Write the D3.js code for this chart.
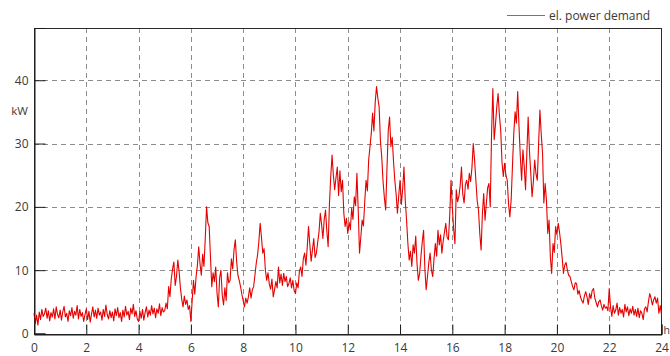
<!DOCTYPE html>
<html>
<head>
<meta charset="utf-8">
<script src="https://cdn.jsdelivr.net/npm/d3@7/dist/d3.min.js"></script>
<style>
  html, body { margin: 0; padding: 0; background: #fff; }
  svg { display: block; }
  text { font-family: "Open Sans", "Noto Sans", sans-serif; fill: #3a3a3a; }
</style>
</head>
<body>
<svg id="chart" width="670" height="356"></svg>
<script>
// Electrical power demand over one day, sampled every 3 minutes (20 samples per hour)
const seriesName = "el. power demand";
const samplesPerHour = 20;
const demandByHour = [
  [3.2, 1.6, 2.9, 1.3, 3.4, 2.2, 3.8, 2.7, 3.1, 4.0, 2.4, 3.6, 2.0, 3.3, 2.6, 3.9, 2.3, 4.2, 3.0, 2.5],          // 0 h
  [3.7, 2.1, 3.4, 4.3, 2.6, 3.2, 1.9, 3.6, 2.8, 4.1, 2.4, 3.5, 2.9, 4.4, 2.3, 3.8, 2.7, 3.3, 1.9, 3.0],          // 1 h
  [3.9, 2.2, 3.5, 1.8, 3.1, 4.2, 2.6, 3.7, 2.4, 4.0, 2.9, 3.4, 2.1, 3.8, 2.7, 4.5, 3.0, 2.3, 3.6, 2.5],          // 2 h
  [3.4, 2.0, 3.9, 2.8, 4.1, 2.5, 3.3, 1.9, 3.7, 2.6, 4.3, 2.9, 3.5, 2.2, 4.0, 3.1, 4.6, 2.7, 3.6, 2.3],          // 3 h
  [1.9, 3.5, 2.4, 3.8, 2.1, 3.3, 4.2, 2.6, 3.7, 2.9, 4.4, 3.1, 4.0, 2.5, 3.9, 3.2, 4.7, 2.8, 4.1, 3.4],          // 4 h
  [3.6, 4.8, 3.9, 7.4, 5.8, 8.6, 10.2, 11.3, 7.6, 9.0, 11.6, 9.8, 7.2, 5.4, 4.2, 5.9, 4.6, 5.3, 3.8, 4.4],       // 5 h
  [1.9, 5.2, 8.4, 6.2, 9.0, 10.8, 13.7, 11.0, 9.2, 12.5, 10.6, 15.0, 20.0, 17.5, 16.9, 12.0, 7.4, 9.6, 8.2, 10.5], // 6 h
  [6.4, 4.2, 8.8, 10.0, 6.0, 4.5, 7.2, 5.2, 9.6, 8.0, 8.4, 11.8, 10.2, 13.2, 14.8, 11.4, 9.2, 8.4, 7.4, 6.2],     // 7 h
  [5.2, 4.2, 5.6, 4.8, 5.8, 7.2, 5.6, 6.9, 7.4, 9.2, 11.1, 12.4, 14.5, 17.4, 15.2, 12.7, 13.4, 10.0, 8.4, 9.6],  // 8 h
  [7.8, 7.0, 8.6, 5.8, 6.9, 8.2, 7.2, 10.5, 8.0, 9.4, 7.6, 9.5, 8.2, 9.0, 7.4, 7.9, 8.8, 7.2, 8.4, 6.8],         // 9 h
  [6.3, 8.0, 7.2, 9.8, 10.5, 9.0, 11.8, 12.7, 10.8, 13.6, 16.9, 14.0, 11.4, 13.2, 15.0, 12.0, 12.7, 14.4, 16.0, 19.0],   // 10 h
  [17.2, 15.0, 18.0, 19.5, 16.2, 13.7, 20.5, 24.8, 28.2, 25.0, 22.7, 24.6, 26.3, 21.8, 25.7, 22.4, 24.2, 19.0, 16.9, 18.2], // 11 h
  [15.8, 17.6, 16.4, 19.8, 18.0, 21.6, 20.2, 25.3, 19.6, 12.7, 15.2, 17.9, 17.0, 20.8, 24.2, 22.5, 27.4, 29.5, 31.6, 34.8], // 12 h
  [32.0, 36.5, 39.0, 37.2, 35.8, 30.4, 27.9, 24.0, 21.5, 19.5, 26.0, 32.1, 34.2, 29.5, 31.0, 27.2, 24.2, 22.0, 19.0, 21.8], // 13 h
  [24.2, 20.4, 22.8, 26.3, 21.0, 17.9, 14.2, 11.6, 13.0, 10.6, 14.0, 12.7, 15.4, 11.0, 8.4, 9.5, 12.2, 14.5, 16.3, 10.2],   // 14 h
  [6.9, 9.0, 11.2, 12.7, 10.0, 9.0, 11.8, 14.2, 12.2, 16.3, 14.0, 15.6, 12.7, 14.6, 16.0, 17.4, 15.2, 14.8, 18.6, 24.2],    // 15 h
  [20.0, 16.5, 14.2, 22.7, 20.8, 21.6, 23.4, 26.3, 22.0, 20.6, 23.5, 24.2, 22.8, 25.3, 24.0, 26.2, 30.0, 27.5, 24.2, 21.0], // 16 h
  [19.5, 15.8, 13.2, 19.0, 22.1, 17.9, 20.5, 23.0, 23.7, 20.0, 31.5, 38.7, 30.6, 33.0, 35.8, 37.9, 34.5, 32.1, 27.0, 24.8], // 17 h
  [26.9, 25.0, 24.2, 20.5, 18.4, 21.1, 26.5, 31.6, 35.0, 33.2, 38.2, 32.7, 28.0, 24.2, 29.0, 26.4, 22.7, 28.5, 34.2, 28.8], // 18 h
  [25.3, 21.6, 24.0, 27.4, 25.2, 24.2, 30.0, 35.3, 31.5, 28.5, 20.6, 23.7, 21.0, 15.8, 17.9, 12.0, 9.5, 14.2, 12.8, 16.9],  // 19 h
  [15.6, 17.4, 16.0, 14.2, 12.0, 9.5, 10.8, 11.2, 10.0, 9.2, 9.0, 8.2, 7.4, 6.9, 8.0, 7.9, 6.2, 6.8, 5.8, 5.2],             // 20 h
  [4.8, 5.9, 6.6, 5.8, 4.6, 6.3, 5.5, 6.8, 7.1, 5.6, 4.9, 4.2, 5.0, 5.3, 4.4, 3.7, 4.6, 4.0, 4.2, 3.6],                    // 21 h
  [7.1, 4.2, 2.7, 4.4, 3.2, 3.7, 4.8, 2.9, 4.1, 3.2, 3.8, 2.6, 4.6, 3.4, 4.2, 2.8, 3.9, 3.2, 4.3, 2.9],                    // 22 h
  [3.8, 2.7, 4.0, 2.5, 3.6, 3.2, 2.2, 3.9, 4.2, 3.4, 5.0, 6.3, 5.6, 4.5, 5.3, 5.8, 4.8, 5.6, 3.2, 4.4]                     // 23 h
];
const demandAtMidnight = 3.0;

const xTicks = [0, 2, 4, 6, 8, 10, 12, 14, 16, 18, 20, 22, 24];
const yTicks = [0, 10, 20, 30, 40];
const xUnit = "h";
const yUnit = "kW";

// flatten hourly rows into [hour, kW] points
const points = [];
demandByHour.forEach((row, h) => {
  row.forEach((v, i) => points.push([h + i / samplesPerHour, v]));
});
points.push([24, demandAtMidnight]);

const svg = d3.select("#chart");
const plot = { left: 34, top: 28, right: 662, bottom: 333.5 };
const font = '"Open Sans", "Noto Sans", sans-serif';

const x = d3.scaleLinear().domain([0, 24]).range([plot.left, plot.right - 0.5]);
const y = d3.scaleLinear().domain([0, 48.25]).range([plot.bottom, plot.top]);

// dashed grid
const grid = svg.append("g").attr("stroke", "#8c8c8c").attr("stroke-width", 1)
  .attr("stroke-dasharray", "5,4").attr("shape-rendering", "crispEdges");
grid.selectAll(".gx").data(xTicks.filter(t => t > 0 && t < 24)).join("line")
  .attr("x1", d => Math.round(x(d)) + 0.5).attr("x2", d => Math.round(x(d)) + 0.5)
  .attr("y1", plot.top).attr("y2", plot.bottom);
grid.selectAll(".gy").data(yTicks.filter(t => t > 0)).join("line")
  .attr("y1", d => Math.round(y(d)) + 0.5).attr("y2", d => Math.round(y(d)) + 0.5)
  .attr("x1", plot.left).attr("x2", plot.right);

// plot frame
svg.append("rect")
  .attr("x", plot.left + 0.5).attr("y", plot.top + 0.5)
  .attr("width", plot.right - plot.left - 1).attr("height", plot.bottom - plot.top)
  .attr("fill", "none").attr("stroke", "#2a2a2a").attr("stroke-width", 1)
  .attr("shape-rendering", "crispEdges");

// demand line
svg.append("path")
  .datum(points)
  .attr("fill", "none")
  .attr("stroke", "#e60000")
  .attr("stroke-width", 1.1)
  .attr("stroke-linejoin", "round")
  .attr("d", d3.line().x(d => x(d[0])).y(d => y(d[1])));

// axes with inward ticks
const xAxis = d3.axisBottom(x).tickValues(xTicks).tickSize(-10).tickPadding(9);
const gx = svg.append("g").attr("transform", `translate(0,${Math.round(plot.bottom) + 0.5})`).call(xAxis);
gx.select(".domain").attr("stroke", "#1a1a1a");
gx.selectAll(".tick line").attr("stroke", "#1a1a1a");
gx.selectAll(".tick text").attr("font-size", 12).attr("fill", "#3a3a3a").attr("font-family", font);

const yAxis = d3.axisLeft(y).tickValues(yTicks).tickSize(-11).tickPadding(6);
const gy = svg.append("g").attr("transform", `translate(${plot.left + 0.5},0)`).call(yAxis);
gy.select(".domain").attr("stroke", "#1a1a1a");
gy.selectAll(".tick line").attr("stroke", "#1a1a1a");
gy.selectAll(".tick text").attr("font-size", 12).attr("fill", "#3a3a3a").attr("font-family", font);

// unit labels
svg.append("text").attr("x", 28).attr("y", 115).attr("text-anchor", "end")
  .attr("font-size", 11.5).text(yUnit);
svg.append("text").attr("x", 663.5).attr("y", 334)
  .attr("font-size", 10.5).text(xUnit);

// legend
const legend = svg.append("g");
legend.append("line").attr("x1", 507).attr("x2", 545).attr("y1", 15.5).attr("y2", 15.5)
  .attr("stroke", "#e04848").attr("stroke-width", 1);
legend.append("text").attr("x", 549).attr("y", 19.5).attr("font-size", 12).text(seriesName);
</script>
</body>
</html>
